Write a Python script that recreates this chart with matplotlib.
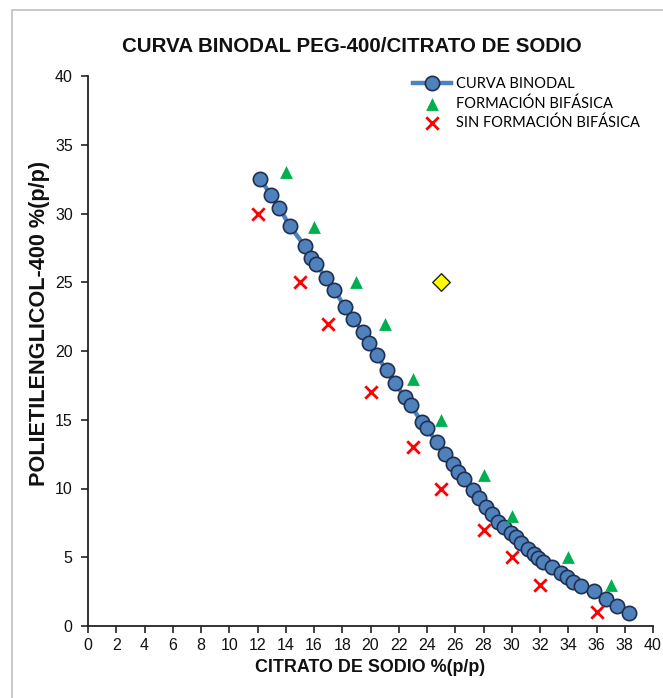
import matplotlib
matplotlib.use("Agg")
import matplotlib.pyplot as plt
from matplotlib.patches import Rectangle

# Binodal curve data (citrate %, PEG %)
binodal_x = [12.17, 12.93, 13.54, 14.30, 15.36, 15.76, 16.14, 16.84, 17.43, 18.19,
             18.78, 19.44, 19.91, 20.43, 21.14, 21.73, 22.43, 22.84, 23.62, 23.97,
             24.72, 25.27, 25.81, 26.21, 26.61, 27.27, 27.69, 28.17, 28.61, 29.04,
             29.44, 29.92, 30.29, 30.69, 31.12, 31.56, 31.87, 32.18, 32.86, 33.52,
             33.92, 34.35, 34.89, 35.81, 36.64, 37.46, 38.31]
binodal_y = [32.54, 31.38, 30.41, 29.07, 27.62, 26.80, 26.31, 25.34, 24.42, 23.21,
             22.36, 21.38, 20.59, 19.69, 18.60, 17.68, 16.62, 16.06, 14.85, 14.37,
             13.35, 12.50, 11.75, 11.21, 10.66, 9.88, 9.28, 8.67, 8.12, 7.58,
             7.22, 6.74, 6.45, 6.01, 5.57, 5.23, 4.92, 4.67, 4.27, 3.83,
             3.54, 3.22, 2.93, 2.57, 1.96, 1.48, 0.97]

biphasic_x = [14, 16, 19, 21, 23, 25, 28, 30, 34, 37]
biphasic_y = [33, 29, 25, 22, 18, 15, 11, 8, 5, 3]

mono_x = [12, 15, 17, 20, 23, 25, 28, 30, 32, 36]
mono_y = [30, 25, 22, 17, 13, 10, 7, 5, 3, 1]

extra_x = [25]
extra_y = [25]

x_ticks = list(range(0, 41, 2))
y_ticks = list(range(0, 41, 5))

W, H = 663, 698
fig = plt.figure(figsize=(W / 100, H / 100), dpi=100)
fig.patch.set_facecolor("white")

# chart area border
fig.patches.append(Rectangle((12 / W, -0.05), 1.0, (H - 10) / H + 0.05,
                             transform=fig.transFigure, fill=False,
                             edgecolor="#BFBFBF", linewidth=1.2, zorder=0))

left, right, bottom, top = 88, 653, 626, 76
ax = fig.add_axes([left / W, 1 - bottom / H, (right - left) / W, (bottom - top) / H])

ax.plot(binodal_x, binodal_y, color="#4F81BD", linewidth=3.2, marker="o",
        markersize=10.3, markerfacecolor="#4F81BD", markeredgecolor="#1F2F4F",
        markeredgewidth=1.2, zorder=3, label="CURVA BINODAL")
ax.scatter(biphasic_x, biphasic_y, marker="^", s=85, color="#00B050",
           linewidths=0, zorder=4, label="FORMACIÓN BIFÁSICA")
ax.scatter(mono_x, mono_y, marker="x", s=80, color="#FF0000",
           linewidths=2.0, zorder=4, label="SIN FORMACIÓN BIFÁSICA")
ax.scatter(extra_x, extra_y, marker="D", s=80, color="#FFFF00",
           edgecolors="#222222", linewidths=1.0, zorder=4)

ax.set_xlim(0, 40)
ax.set_ylim(0, 40)
ax.set_xticks(x_ticks)
ax.set_yticks(y_ticks)
for s in ["top", "right"]:
    ax.spines[s].set_visible(False)
for s in ["left", "bottom"]:
    ax.spines[s].set_color("#222222")
    ax.spines[s].set_linewidth(1.3)
ax.tick_params(direction="out", length=5, width=1.2, color="#222222",
               labelsize=11.5, labelcolor="#111111")
ax.tick_params(axis="y", pad=6)
ax.tick_params(axis="x", pad=4)
for lab in ax.get_xticklabels() + ax.get_yticklabels():
    lab.set_family("Liberation Sans")

fig.text(352 / W, 1 - 47 / H, "CURVA BINODAL PEG-400/CITRATO DE SODIO",
         ha="center", va="center", fontsize=14.8, fontweight="bold",
         family="Liberation Sans", color="#111111")
fig.text(370 / W, 1 - 668 / H, "CITRATO DE SODIO %(p/p)", ha="center",
         va="center", fontsize=12.9, fontweight="bold",
         family="Liberation Sans", color="#111111")
fig.text(40 / W, 1 - 323 / H, "POLIETILENGLICOL-400 %(p/p)", ha="center",
         va="center", rotation=90, fontsize=15.6, fontweight="bold",
         family="Liberation Sans", color="#111111")

leg = ax.legend(loc="upper left", bbox_to_anchor=(403 / W, 1 - 67 / H),
                bbox_transform=fig.transFigure, frameon=False,
                prop={"family": "Lato", "size": 10.5}, handlelength=2.6,
                handletextpad=0.3, labelspacing=0.33, borderpad=0.2)

fig.savefig("out.png", dpi=100)
